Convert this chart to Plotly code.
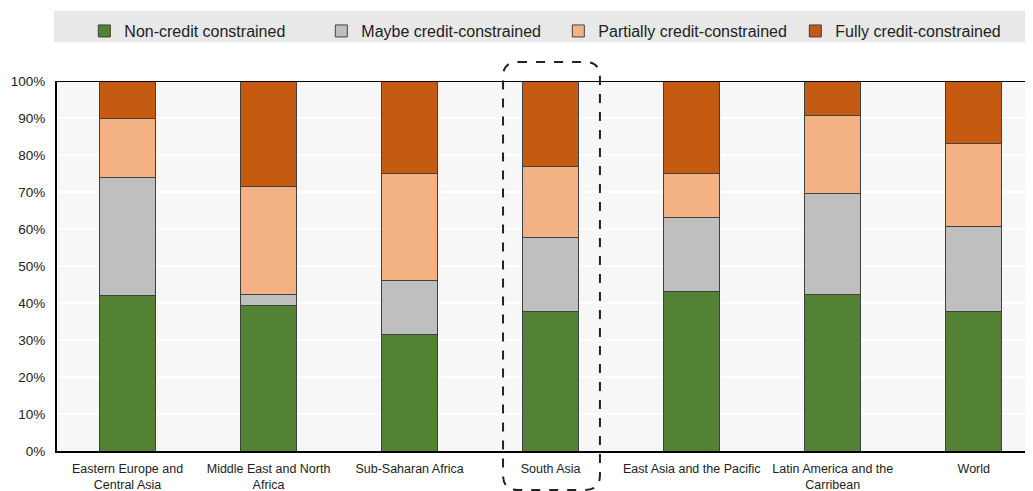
import plotly.graph_objects as go

categories = ["Eastern Europe and<br>Central Asia", "Middle East and North<br>Africa", "Sub-Saharan Africa",
              "South Asia", "East Asia and the Pacific", "Latin America and the<br>Carribean", "World"]
non_credit = [42.0, 39.2, 31.6, 37.8, 43.0, 42.4, 37.8]
maybe = [32.0, 3.2, 14.6, 20.0, 20.0, 27.3, 23.0]
partially = [16.0, 29.2, 28.7, 19.2, 12.0, 21.1, 22.2]
fully = [10.0, 28.4, 25.1, 23.0, 25.0, 9.2, 17.0]
series_names = ["Non-credit constrained", "Maybe credit-constrained",
                "Partially credit-constrained", "Fully credit-constrained"]
colors = ["#548235", "#bfbfbf", "#f4b183", "#c55a11"]

FONT = "Liberation Sans Narrow, Arial Narrow, Liberation Sans, Arial"

fig = go.Figure()
xs = list(range(len(categories)))
for name, vals, c in zip(series_names, [non_credit, maybe, partially, fully], colors):
    fig.add_trace(go.Bar(x=xs, y=vals, name=name, marker=dict(color=c, line=dict(color="#404040", width=1)),
                         width=0.4))

# dashed rounded highlight around South Asia (paper coordinates)
x0, x1 = 0.457, 0.5563
y0, y1 = -0.1054, 1.0514
rx, ry = 0.0154, 0.0405
path = (f"M {x0+rx},{y1} L {x1-rx},{y1} Q {x1},{y1} {x1},{y1-ry} L {x1},{y0+ry} "
        f"Q {x1},{y0} {x1-rx},{y0} L {x0+rx},{y0} Q {x0},{y0} {x0},{y0+ry} "
        f"L {x0},{y1-ry} Q {x0},{y1} {x0+rx},{y1} Z")

fig.update_layout(
    width=1025, height=483,
    barmode="stack",
    paper_bgcolor="white",
    plot_bgcolor="#f7f7f7",
    margin=dict(l=49, r=0, t=73, b=40, autoexpand=False),
    font=dict(family=FONT, size=12, color="#222222"),
    xaxis=dict(tickmode="array", tickvals=xs, ticktext=categories, range=[-0.5, 6.42],
               showgrid=False, showline=True, linecolor="black", linewidth=2, ticks="",
               ticklabelstandoff=5,
               tickfont=dict(family=FONT, size=12.5, color="#222222"), fixedrange=True),
    yaxis=dict(range=[0, 100], tickvals=list(range(0, 101, 10)),
               ticktext=[f"{v}%" for v in range(0, 101, 10)],
               showgrid=True, gridcolor="white", gridwidth=1.5, zeroline=False,
               showline=True, linecolor="black", linewidth=2, ticks="",
               ticklabelstandoff=7,
               tickfont=dict(family=FONT, size=13.5, color="#222222")),
    legend=dict(orientation="h", x=0.028, xanchor="left", y=1.135, yanchor="middle",
                bgcolor="rgba(0,0,0,0)", font=dict(family=FONT, size=16, color="#222222"),
                entrywidth=192, traceorder="normal", itemwidth=30),
    shapes=[
        dict(type="rect", xref="paper", yref="paper", x0=-0.003, x1=0.997, y0=1.105, y1=1.19,
             fillcolor="#e8e8e8", line=dict(width=0), layer="below"),
        dict(type="line", xref="paper", yref="y", x0=0, x1=1, y0=100, y1=100,
             line=dict(color="black", width=2)),
        dict(type="path", xref="paper", yref="paper", path=path,
             line=dict(color="#222222", width=2, dash="dash")),
    ],
)
fig.write_html("out.html")
